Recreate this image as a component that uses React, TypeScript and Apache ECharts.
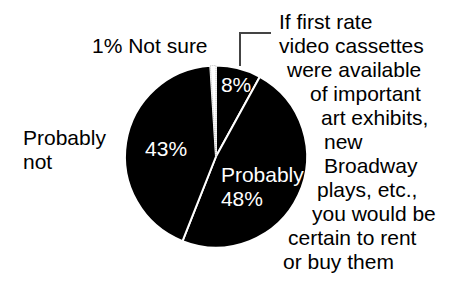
import React, { useEffect, useRef } from "react";
import * as echarts from "echarts";

const sliceNames = ["Certain to rent or buy", "Probably", "Probably not", "Not sure"];
const sliceValues = [8, 48, 43, 1];
const insideLabelTexts = ["8%", "{a|Probably}\n{a|48%}", "43%", ""];
const probablyNotLines = ["Probably", "not"];
const notSureLabel = "1% Not sure";
const questionLines = [
  "If first rate",
  "video cassettes",
  "were available",
  "of important",
  "art exhibits,",
  "new",
  "Broadway",
  "plays, etc.,",
  "you would be",
  "certain to rent",
  "or buy them",
];

// layout constants
const FONT = "'Liberation Sans', Arial, Helvetica, sans-serif";
const FS = 21;
const questionIndents = [279, 279, 287, 310, 321, 324, 324, 317, 312, 288, 283];
const labelOffsets: [number, number][] = [
  [8, -25],
  [3, 9],
  [-2, 0],
  [0, 0],
];

export default function App() {
  const ref = useRef<HTMLDivElement>(null);
  useEffect(() => {
    if (!ref.current) return;
    const chart = echarts.init(ref.current, null, { renderer: "svg" });

    const graphics: any[] = [];
    probablyNotLines.forEach((t, i) => {
      graphics.push({
        type: "text",
        x: 23,
        y: 137 + i * 24,
        style: { text: t, font: `${FS}px ${FONT}`, fill: "#000", verticalAlign: "middle", align: "left" },
      });
    });
    graphics.push({
      type: "text",
      x: 92,
      y: 45,
      style: { text: notSureLabel, font: `${FS}px ${FONT}`, fill: "#000", verticalAlign: "middle", align: "left" },
    });
    questionLines.forEach((t, i) => {
      graphics.push({
        type: "text",
        x: questionIndents[i],
        y: 21 + i * 24,
        style: { text: t, font: `${FS}px ${FONT}`, fill: "#000", verticalAlign: "middle", align: "left" },
      });
    });
    graphics.push({
      type: "polyline",
      shape: { points: [[240, 66], [240, 33], [271, 33]] },
      style: { stroke: "#444", lineWidth: 2, fill: "none" },
    });

    chart.setOption({
      animation: false,
      backgroundColor: "#fff",
      series: [
        {
          type: "pie",
          center: [216, 156.5],
          radius: 91,
          startAngle: 90,
          clockwise: true,
          silent: true,
          itemStyle: { color: "#000", borderColor: "#fff", borderWidth: 2 },
          label: {
            show: true,
            position: "inside",
            color: "#fff",
            fontSize: FS,
            fontFamily: FONT,
            lineHeight: 24,
            formatter: (p: any) => insideLabelTexts[p.dataIndex],
            rich: {
              a: { color: "#fff", fontSize: FS, fontFamily: FONT, lineHeight: 24, width: 84, align: "left" },
            },
          },
          labelLine: { show: false },
          labelLayout: (p: any) => ({ dx: labelOffsets[p.dataIndex][0], dy: labelOffsets[p.dataIndex][1] }),
          data: sliceValues.map((v, i) => ({
            name: sliceNames[i],
            value: v,
            itemStyle:
              i === 3
                ? { color: "#fff", borderColor: "#bbb", borderType: "dotted", borderWidth: 1 }
                : undefined,
            label: i === 3 ? { show: false } : undefined,
          })),
        },
      ],
      graphic: graphics,
    });
    return () => chart.dispose();
  }, []);
  return (
    <div
      ref={ref}
      style={{ position: "absolute", left: 0, top: 0, width: 455, height: 283 }}
    />
  );
}
